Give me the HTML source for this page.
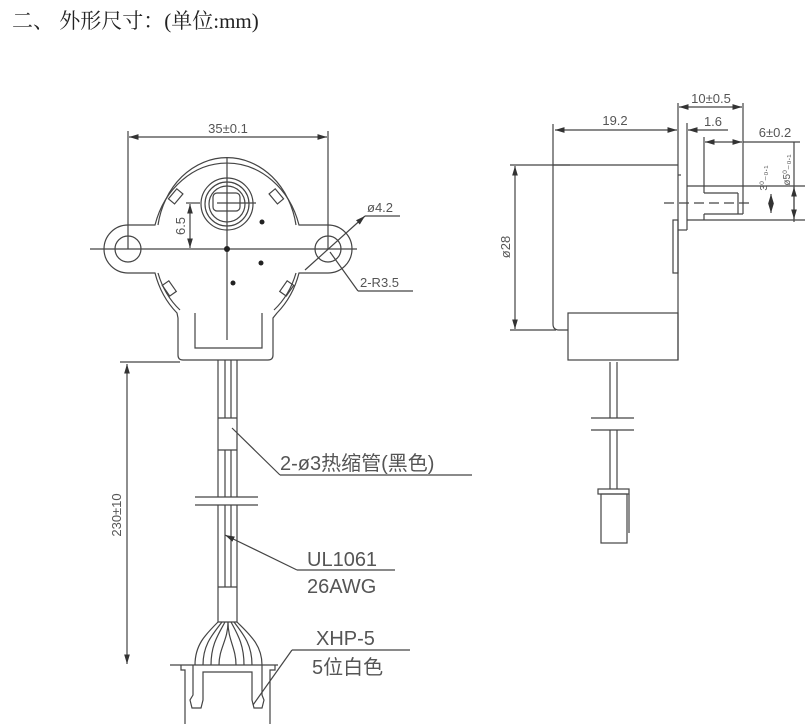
<!DOCTYPE html>
<html><head><meta charset="utf-8"><style>
html,body{margin:0;padding:0;background:#fff;width:810px;height:724px;overflow:hidden}
svg{display:block}
text{font-family:"Liberation Sans","Noto Sans CJK SC",sans-serif;fill:#555}
</style></head><body>
<svg width="810" height="724" viewBox="0 0 810 724" xmlns="http://www.w3.org/2000/svg">
<defs>
<marker id="a" viewBox="0 0 10 6" refX="10" refY="3" markerWidth="8" markerHeight="5" orient="auto-start-reverse"><path d="M0,0 L10,3 L0,6 z" fill="#333"/></marker>
</defs>
<text x="12" y="28" style="font-family:'Liberation Serif','Noto Serif CJK SC',serif;fill:#222;font-size:21px">二、 外形尺寸：(单位:mm)</text>

<g fill="none" stroke="#444" stroke-width="1.2">
<!-- LEFT VIEW -->
<!-- 35 dim -->
<line x1="128" y1="131" x2="128" y2="249"/>
<line x1="328" y1="131" x2="328" y2="249"/>
<line x1="129" y1="137" x2="327" y2="137" marker-start="url(#a)" marker-end="url(#a)"/>
<!-- center lines -->
<line x1="90" y1="249" x2="357" y2="249"/>
<line x1="227" y1="158" x2="227" y2="340"/>
<!-- body -->
<path d="M155,225 A75,86 0 0 1 299,225 L328,225 A24,24 0 0 1 328,273 L299,273 A75,86 0 0 1 277,313 L273,318 L273,355 Q273,360 268,360 L183,360 Q178,360 178,355 L178,318 L177,313 A75,86 0 0 1 155,273 L128,273 A24,24 0 0 1 128,225 Z"/>
<path d="M158,225 A70,81 0 0 1 296,225"/>
<path d="M158,273 A70,81 0 0 0 180,310"/>
<path d="M296,273 A70,81 0 0 1 274,310"/>
<path d="M195,313 L195,348 L262,348 L262,313"/>
<circle cx="128" cy="249" r="13"/>
<circle cx="328" cy="249" r="13"/>
<!-- shaft -->
<circle cx="227" cy="204" r="26"/>
<circle cx="227" cy="204" r="22"/>
<circle cx="227" cy="204" r="18"/>
<rect x="213" y="193" width="27" height="18" rx="4"/>
<line x1="217" y1="203" x2="256" y2="203"/>
<!-- slots -->
<rect x="172" y="190" width="8" height="13" transform="rotate(40 176 196)"/>
<rect x="272" y="190" width="8" height="13" transform="rotate(-40 276 196)"/>
<rect x="165" y="282" width="8" height="13" transform="rotate(-35 169 288)"/>
<rect x="283" y="282" width="8" height="13" transform="rotate(35 287 288)"/>
<!-- 6.5 dim -->
<line x1="190" y1="204" x2="190" y2="248" marker-start="url(#a)" marker-end="url(#a)"/>
<line x1="186" y1="203" x2="200" y2="203"/>
<!-- leaders -->
<line x1="305" y1="270" x2="365" y2="216" marker-end="url(#a)"/>
<line x1="365" y1="216" x2="400" y2="216"/>
<line x1="330" y1="252" x2="358" y2="291"/>
<line x1="358" y1="291" x2="413" y2="291"/>
</g>
<g fill="#222">
<circle cx="227" cy="249" r="3"/><circle cx="262" cy="222" r="2.5"/><circle cx="261" cy="263" r="2.5"/><circle cx="233" cy="283" r="2.5"/>
</g>
<text x="228" y="133" font-size="13" text-anchor="middle">35±0.1</text>
<text transform="translate(185,226) rotate(-90)" font-size="13" text-anchor="middle">6.5</text>
<text x="367" y="212" font-size="13">ø4.2</text>
<text x="360" y="287" font-size="13">2-R3.5</text>

<g fill="none" stroke="#444" stroke-width="1.2">
<!-- wires -->
<line x1="218" y1="360" x2="218" y2="497"/><line x1="237" y1="360" x2="237" y2="497"/>
<line x1="225" y1="360" x2="225" y2="418"/><line x1="231" y1="360" x2="231" y2="418"/>
<line x1="225" y1="450" x2="225" y2="497"/><line x1="231" y1="450" x2="231" y2="497"/>
<line x1="218" y1="418" x2="237" y2="418"/><line x1="218" y1="450" x2="237" y2="450"/>
<line x1="195" y1="497" x2="258" y2="497"/><line x1="195" y1="505" x2="258" y2="505"/>
<line x1="218" y1="505" x2="218" y2="622"/><line x1="237" y1="505" x2="237" y2="622"/>
<line x1="225" y1="505" x2="225" y2="587"/><line x1="231" y1="505" x2="231" y2="587"/>
<line x1="218" y1="587" x2="237" y2="587"/><line x1="218" y1="622" x2="237" y2="622"/>
<path d="M218,622 C205,635 195,645 195,665"/>
<path d="M222,622 C212,635 203,645 203,665"/>
<path d="M225,622 C218,635 211,645 211,665"/>
<path d="M228,622 C228,640 219,648 219,665"/>
<path d="M228,622 C228,640 236,648 236,665"/>
<path d="M231,622 C238,635 244,645 244,665"/>
<path d="M234,622 C244,635 252,645 252,665"/>
<path d="M237,622 C250,635 262,645 262,665"/>
<!-- connector -->
<line x1="170" y1="665" x2="278" y2="665"/>
<path d="M181,665 L181,670 L185,670 L185,724"/>
<path d="M275,665 L275,670 L270,670 L270,724"/>
<path d="M193,665 L193,695 L190,700 L192,708 L201,708 L203,700 L203,672 L252,672 L252,700 L254,708 L262,708 L264,700 L262,695 L262,665"/>
<!-- 230 dim -->
<line x1="120" y1="362" x2="180" y2="362"/>
<line x1="127" y1="364" x2="127" y2="664" marker-start="url(#a)" marker-end="url(#a)"/>
<!-- leaders -->
<line x1="232" y1="428" x2="280" y2="475"/><line x1="280" y1="475" x2="472" y2="475"/>
<line x1="225" y1="535" x2="297" y2="570" marker-start="url(#a)"/><line x1="297" y1="570" x2="395" y2="570"/>
<line x1="253" y1="705" x2="292" y2="650"/><line x1="292" y1="650" x2="410" y2="650"/>
</g>
<text transform="translate(121,515) rotate(-90)" font-size="13" text-anchor="middle">230±10</text>
<text x="280" y="470" font-size="20">2-ø3热缩管(黑色)</text>
<text x="307" y="566" font-size="20">UL1061</text>
<text x="307" y="593" font-size="20">26AWG</text>
<text x="316" y="645" font-size="20">XHP-5</text>
<text x="312" y="674" font-size="20">5位白色</text>

<g fill="none" stroke="#444" stroke-width="1.2">
<!-- RIGHT VIEW -->
<path d="M553,124 L553,324 Q553,330 559,330 L568,330"/>
<line x1="553" y1="165" x2="678" y2="165"/>
<line x1="678" y1="103" x2="678" y2="360"/>
<line x1="687" y1="123" x2="687" y2="230"/>
<line x1="678" y1="230" x2="687" y2="230"/>
<line x1="678" y1="175" x2="681" y2="175"/>
<rect x="673" y="220" width="5" height="53"/>
<rect x="568" y="313" width="110" height="47"/>
<!-- shaft -->
<line x1="687" y1="186" x2="805" y2="186"/>
<line x1="687" y1="220" x2="805" y2="220"/>
<line x1="704" y1="137" x2="704" y2="193"/>
<line x1="704" y1="193" x2="738" y2="193"/>
<line x1="704" y1="214" x2="743" y2="214"/>
<line x1="704" y1="214" x2="704" y2="220"/>
<line x1="738" y1="193" x2="738" y2="214"/>
<line x1="743" y1="103" x2="743" y2="214"/>
<line x1="664" y1="203" x2="750" y2="203" stroke-dasharray="10,5"/>
<!-- dims -->
<line x1="679" y1="107" x2="742" y2="107" marker-start="url(#a)" marker-end="url(#a)"/>
<line x1="555" y1="130" x2="677" y2="130" marker-start="url(#a)" marker-end="url(#a)"/>
<line x1="688" y1="130" x2="728" y2="130" marker-start="url(#a)"/>
<line x1="705" y1="142" x2="742" y2="142" marker-start="url(#a)" marker-end="url(#a)"/>
<line x1="743" y1="142" x2="800" y2="142"/>
<line x1="771" y1="194" x2="771" y2="213" marker-start="url(#a)" marker-end="url(#a)"/>
<line x1="794" y1="142" x2="794" y2="222"/>
<line x1="794" y1="187" x2="794" y2="219" marker-start="url(#a)" marker-end="url(#a)"/>
<line x1="510" y1="165" x2="570" y2="165"/>
<line x1="510" y1="330" x2="556" y2="330"/>
<line x1="515" y1="166" x2="515" y2="329" marker-start="url(#a)" marker-end="url(#a)"/>
<!-- wire -->
<line x1="610" y1="362" x2="610" y2="418"/><line x1="617" y1="362" x2="617" y2="418"/>
<line x1="591" y1="418" x2="634" y2="418"/><line x1="591" y1="430" x2="634" y2="430"/>
<line x1="610" y1="430" x2="610" y2="489"/><line x1="617" y1="430" x2="617" y2="489"/>
<rect x="598" y="489" width="31" height="5"/>
<rect x="601" y="494" width="26" height="49"/>
<line x1="629" y1="494" x2="629" y2="533"/>
</g>
<text x="615" y="125" font-size="13" text-anchor="middle">19.2</text>
<text x="711" y="103" font-size="13" text-anchor="middle">10±0.5</text>
<text x="713" y="126" font-size="13" text-anchor="middle">1.6</text>
<text x="775" y="137" font-size="13" text-anchor="middle">6±0.2</text>
<text transform="translate(767,178) rotate(-90)" font-size="10" text-anchor="middle">3⁰₋₀.₁</text>
<text transform="translate(790,170) rotate(-90)" font-size="10" text-anchor="middle">ø5⁰₋₀.₁</text>
<text transform="translate(510,247) rotate(-90)" font-size="13" text-anchor="middle">ø28</text>
</svg>
</body></html>
